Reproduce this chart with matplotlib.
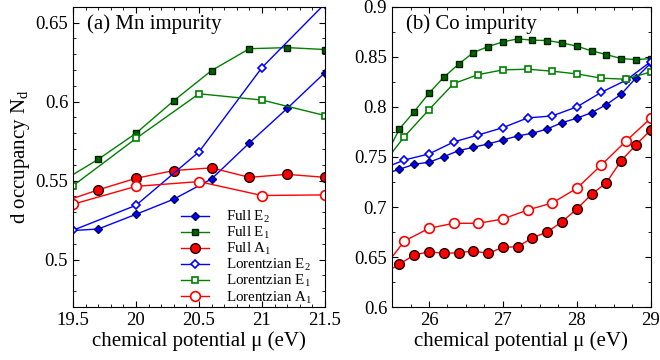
import matplotlib
matplotlib.use("Agg")
import matplotlib.pyplot as plt
from matplotlib.ticker import MultipleLocator

plt.rcParams['font.family'] = ['Liberation Serif', 'DejaVu Serif']
plt.rcParams['mathtext.fontset'] = 'custom'
plt.rcParams['mathtext.rm'] = 'Liberation Serif'
plt.rcParams['mathtext.it'] = 'Liberation Serif:italic'
plt.rcParams['font.size'] = 14

# ---- (a) Mn impurity ----
mn_full_x = [19.4, 19.7, 20.0, 20.3, 20.6, 20.9, 21.2, 21.5]
mn_full_e2 = [0.518, 0.5194, 0.5287, 0.5383, 0.5511, 0.5739, 0.5957, 0.6184]
mn_full_e1 = [0.549, 0.5635, 0.580, 0.6006, 0.6197, 0.6335, 0.6342, 0.633]
mn_full_a1 = [0.536, 0.5442, 0.5515, 0.5564, 0.5581, 0.5521, 0.554, 0.5521]

mn_lor_x = [19.5, 20.0, 20.5, 21.0, 21.5]
mn_lor_e2 = [0.5186, 0.5344, 0.5682, 0.6216, 0.662]
mn_lor_e1 = [0.5468, 0.5767, 0.605, 0.601, 0.5912]
mn_lor_a1 = [0.5351, 0.5464, 0.5494, 0.5406, 0.541]

# ---- (b) Co impurity ----
co_full_x = [25.4, 25.6, 25.8, 26.0, 26.2, 26.4, 26.6, 26.8, 27.0, 27.2,
             27.4, 27.6, 27.8, 28.0, 28.2, 28.4, 28.6, 28.8, 29.0]
co_full_e2 = [0.733, 0.7377, 0.7427, 0.7447, 0.7503, 0.7563, 0.7597, 0.763, 0.767, 0.771,
              0.7737, 0.778, 0.7843, 0.7887, 0.7943, 0.8023, 0.8127, 0.829, 0.8437]
co_full_e1 = [0.749, 0.778, 0.7953, 0.8137, 0.8297, 0.8427, 0.8543, 0.8603, 0.865, 0.868,
              0.8667, 0.8663, 0.864, 0.8607, 0.856, 0.8523, 0.8483, 0.8473, 0.8483]
co_full_a1 = [0.634, 0.643, 0.652, 0.6553, 0.6537, 0.6543, 0.656, 0.6537, 0.6597, 0.6603,
              0.6693, 0.675, 0.6853, 0.698, 0.7127, 0.7243, 0.7463, 0.762, 0.777]

co_lor_x = [25.333, 25.667, 26.0, 26.333, 26.667, 27.0, 27.333, 27.667,
            28.0, 28.333, 28.667, 29.0]
co_lor_e2 = [0.737, 0.747, 0.753, 0.765, 0.772, 0.7793, 0.789, 0.791,
             0.800, 0.8147, 0.8267, 0.8453]
co_lor_e1 = [0.7385, 0.7703, 0.7973, 0.8233, 0.8323, 0.837, 0.8377, 0.8357,
             0.833, 0.8287, 0.8277, 0.835]
co_lor_a1 = [0.634, 0.666, 0.6787, 0.6837, 0.6837, 0.688, 0.697, 0.704,
             0.7187, 0.742, 0.766, 0.7887]

blue = '#0000ff'
green = '#008000'
red = '#ff0000'

fig = plt.figure(figsize=(6.6, 3.6), dpi=100)
ax1 = fig.add_axes([0.1106, 0.147, 0.3818, 0.834])
ax2 = fig.add_axes([0.594, 0.147, 0.392, 0.834])


def draw(ax, fx, fe2, fe1, fa1, lx, le2, le1, la1):
    ax.plot(fx, fe2, '-D', color=blue, mfc=blue, mec='#000060', ms=4.5, lw=1, label='Full E$_2$')
    ax.plot(fx, fe1, '-s', color=green, mfc='#006400', mec='#002000', ms=4.5, lw=1, label='Full E$_1$')
    ax.plot(fx, fa1, '-o', color=red, mfc=red, mec='#200000', ms=7, lw=1, label='Full A$_1$')
    ax.plot(lx, le2, '-D', color=blue, mfc='white', mec=blue, ms=4.5, mew=1.2, lw=1,
            label='Lorentzian E$_2$')
    ax.plot(lx, le1, '-s', color=green, mfc='white', mec=green, ms=4.5, mew=1.2, lw=1,
            label='Lorentzian E$_1$')
    ax.plot(lx, la1, '-o', color=red, mfc='white', mec=red, ms=7, mew=1.2, lw=1,
            label='Lorentzian A$_1$')
    ax.tick_params(which='both', direction='in', top=True, right=True, labelsize=13.5)
    ax.tick_params(which='major', length=4)
    ax.tick_params(which='minor', length=2)
    ax.set_xlabel('chemical potential μ (eV)', labelpad=2, fontsize=15)


draw(ax1, mn_full_x, mn_full_e2, mn_full_e1, mn_full_a1,
     mn_lor_x, mn_lor_e2, mn_lor_e1, mn_lor_a1)
ax1.set_xlim(19.5, 21.5)
ax1.set_ylim(0.47, 0.66)
ax1.xaxis.set_minor_locator(MultipleLocator(0.1))
ax1.yaxis.set_minor_locator(MultipleLocator(0.01))
ax1.set_xticks([19.5, 20, 20.5, 21, 21.5])
ax1.set_xticklabels(['19.5', '20', '20.5', '21', '21.5'])
ax1.set_yticks([0.5, 0.55, 0.6, 0.65])
ax1.set_yticklabels(['0.5', '0.55', '0.6', '0.65'])
ax1.set_ylabel('d occupancy N$_\\mathrm{d}$', labelpad=2, fontsize=15)
ax1.text(0.055, 0.975, '(a) Mn impurity', transform=ax1.transAxes, ha='left', va='top', fontsize=15)
ax1.legend(loc='lower right', frameon=False, fontsize=10.8, handlelength=1.9,
           handletextpad=1.1, labelspacing=0.0, handleheight=0.6,
           borderaxespad=0.0, borderpad=0.1, bbox_to_anchor=(0.955, 0.0))

draw(ax2, co_full_x, co_full_e2, co_full_e1, co_full_a1,
     co_lor_x, co_lor_e2, co_lor_e1, co_lor_a1)
ax2.set_xlim(25.5, 29.0)
ax2.set_ylim(0.6, 0.9)
ax2.xaxis.set_major_locator(MultipleLocator(1))
ax2.xaxis.set_minor_locator(MultipleLocator(0.25))
ax2.yaxis.set_minor_locator(MultipleLocator(0.025))
ax2.set_yticks([0.6, 0.65, 0.7, 0.75, 0.8, 0.85, 0.9])
ax2.set_yticklabels(['0.6', '0.65', '0.7', '0.75', '0.8', '0.85', '0.9'])
ax2.text(0.054, 0.975, '(b) Co impurity', transform=ax2.transAxes, ha='left', va='top', fontsize=15)

fig.savefig('out.png', dpi=100)
